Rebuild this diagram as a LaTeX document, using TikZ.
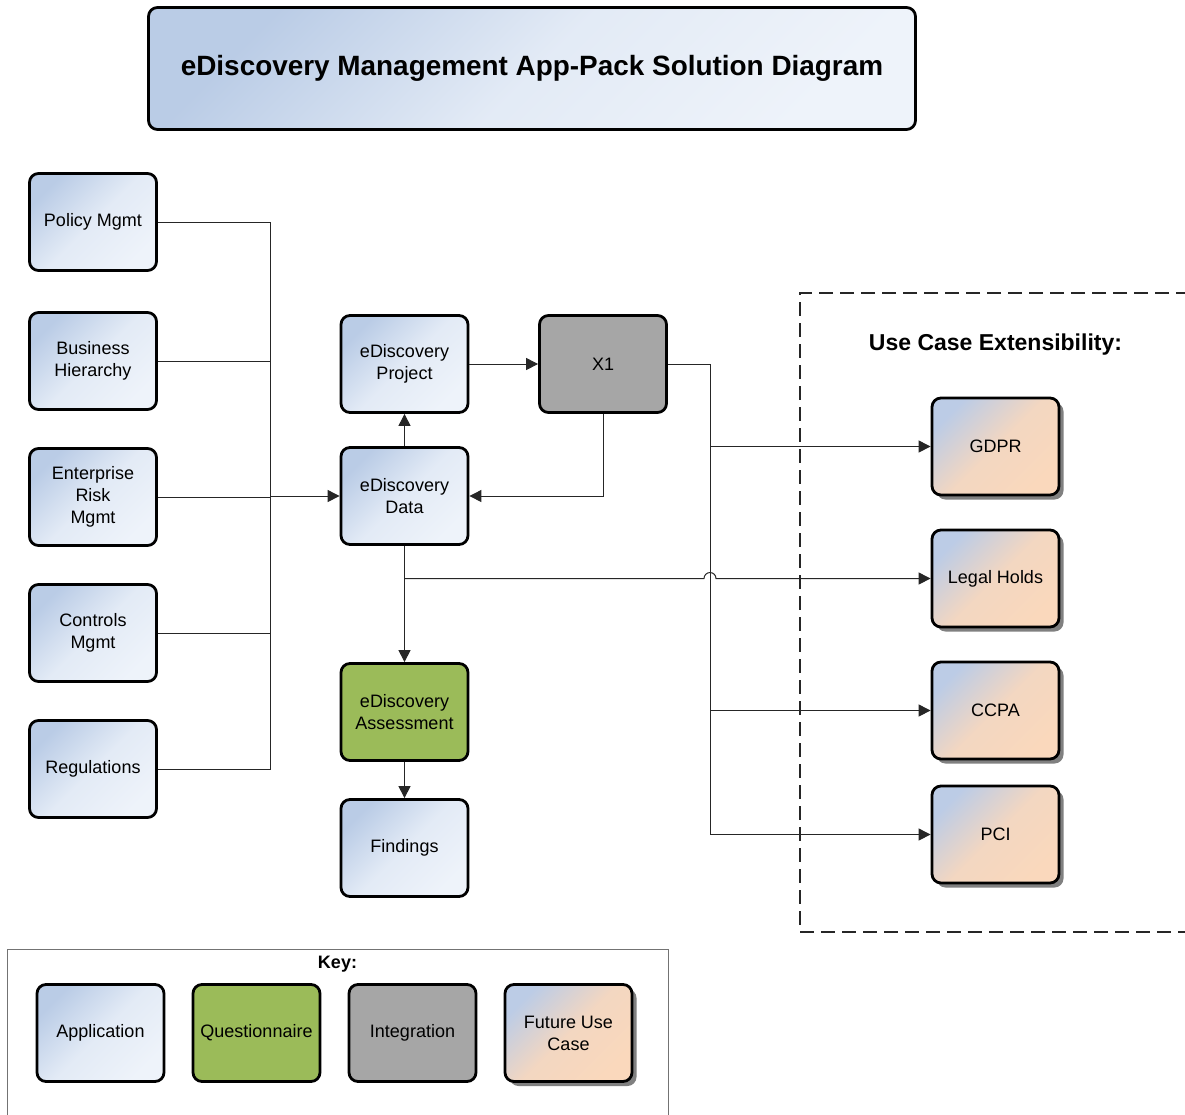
\documentclass[tikz,border=0pt]{standalone}
\usepackage{fontspec}
\setmainfont{Liberation Sans}
\usetikzlibrary{arrows.meta, positioning, shadows}
\definecolor{appA}{HTML}{BACCE6}
\definecolor{appB}{HTML}{EEF3FA}
\definecolor{futA}{HTML}{BCCCE6}
\definecolor{futB}{HTML}{FAD8BC}
\definecolor{qstC}{HTML}{9BBB59}
\definecolor{intC}{HTML}{A6A6A6}

\begin{document}
\begin{tikzpicture}[x=1pt, y=-1pt, >={Triangle[length=12pt,width=12pt]},
        font=\fontsize{18}{22}\selectfont,
        box/.style={draw, rounded corners=9pt, line width=2.8pt, align=center,
            minimum width=127pt, minimum height=97pt, inner sep=2pt, text=black},
        app/.style={box, top color=appA, bottom color=appB,
            middle color=appB!78!appA, shading angle=45},
        qst/.style={box, fill=qstC},
        intg/.style={box, fill=intC},
        fut/.style={box, top color=futA, bottom color=futB,
            middle color=futB!88!futA, shading angle=45,
            drop shadow={shadow xshift=4.5pt, shadow yshift=-4.5pt, fill=black!50, opacity=1}},
        con/.style={draw=black!85, line width=1pt}]
    \useasboundingbox (0,0) rectangle (1185,1114);

    % title
    \node(ttl)[app, minimum width=767pt, minimum height=122pt,
        font=\fontsize{27.9}{30}\selectfont\bfseries] at (532,68.5)
        {eDiscovery Management App-Pack Solution Diagram};

    % sources
    \node(pol)[app] at (93,222) {Policy Mgmt};
    \node(bus)[app, below=39.2pt of pol] {Business\\Hierarchy};
    \node(erm)[app, below=36.2pt of bus] {Enterprise\\Risk\\Mgmt};
    \node(ctl)[app, below=36.2pt of erm] {Controls\\Mgmt};
    \node(reg)[app, below=36.2pt of ctl] {Regulations};

    % core
    \node(prj)[app] at (404.5,364) {eDiscovery\\Project};
    \node(dat)[app, below=32.2pt of prj] {eDiscovery\\Data};
    \node(ass)[qst, below=116.2pt of dat] {eDiscovery\\Assessment};
    \node(fnd)[app, below=36.2pt of ass] {Findings};
    \node(x1)[intg, right=68.7pt of prj] {X1};

    % use cases
    \draw[black!85, line width=2pt, dash pattern=on 14pt off 7pt]
        (1190,293) -- (800,293) -- (800,932) -- (1190,932);
    \node[font=\fontsize{23}{26}\selectfont\bfseries] at (995.5,345) {Use Case Extensibility:};
    \node(gdpr)[fut] at (995.5,446.5) {GDPR};
    \node(leg)[fut, below=32.2pt of gdpr] {Legal Holds};
    \node(ccpa)[fut, below=32.2pt of leg] {CCPA};
    \node(pci)[fut, below=24.2pt of ccpa] {PCI};

    % connectors
    \coordinate(jl) at (270,0);
    \coordinate(jr) at (710,0);
    \draw[con] (pol) -- (pol -| jl) -- (reg -| jl) -- (reg);
    \draw[con] (bus) -- (bus -| jl);
    \draw[con] (erm) -- (erm -| jl);
    \draw[con] (ctl) -- (ctl -| jl);
    \draw[con,->] (dat -| jl) -- (dat);
    \draw[con,->] (dat) -- (prj);
    \draw[con,->] (prj) -- (x1);
    \draw[con,->] (x1) |- (dat);
    \draw[con,->] (dat) -- (ass);
    \draw[con,->] (ass) -- (fnd);
    \draw[con,->] (x1) -- (x1 -| jr) -- (pci -| jr) -- (pci);
    \draw[con,->] (gdpr -| jr) -- (gdpr);
    \draw[con,->] (ccpa -| jr) -- (ccpa);
    \coordinate(hop) at (jr |- leg);
    \draw[con,->] (dat |- leg) -- ([xshift=-6pt]hop)
        arc[start angle=180, end angle=360, radius=6] -- (leg);

    % key
    \draw[black!55, line width=1pt] (7,1120) -- (7,949) -- (668,949) -- (668,1120);
    \node[font=\fontsize{18}{22}\selectfont\bfseries] at (337.5,964) {Key:};
    \node(kapp)[app] at (100.5,1033) {Application};
    \node(kqst)[qst, right=26.2pt of kapp] {Questionnaire};
    \node(kint)[intg, right=26.2pt of kqst] {Integration};
    \node(kfut)[fut, right=26.2pt of kint] {Future Use\\Case};
\end{tikzpicture}
\end{document}
